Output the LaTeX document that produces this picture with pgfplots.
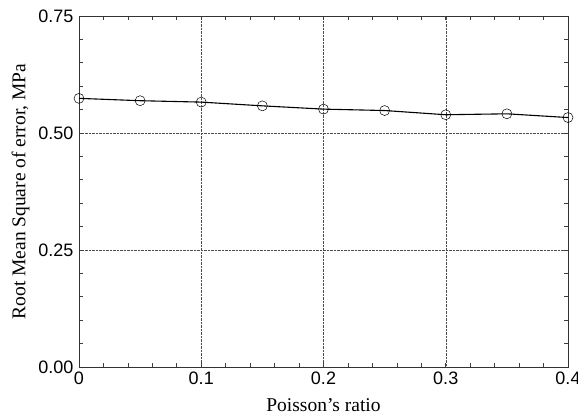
\documentclass[border=0pt]{standalone}
\usepackage{fontspec}
\setmainfont{Liberation Serif}
\setsansfont{Liberation Sans}
\usepackage{pgfplots}
\pgfplotsset{compat=1.18}
\usetikzlibrary{calc}

\begin{document}
\begin{tikzpicture}
\begin{axis}[
    name=ax,
    scale only axis,
    width=489pt, height=351pt,
    xmin=0, xmax=0.4,
    ymin=0, ymax=0.75,
    xtick={0,0.1,0.2,0.3,0.4},
    ytick={0,0.25,0.5,0.75},
    minor x tick num=4,
    minor y tick num=4,
    tick align=inside,
    major tick length=4pt,
    minor tick length=4pt,
    tick style={black!75, line width=0.6pt},
    axis line style={black!80, line width=0.9pt},
    xmajorgrids, ymajorgrids,
    major grid style={black!70, densely dotted, line width=0.5pt},
    /pgf/number format/assume math mode=true,
    xticklabel style={/pgf/number format/fixed, font=\fontsize{18}{20}\sffamily, yshift=-1pt},
    yticklabel style={/pgf/number format/fixed, /pgf/number format/precision=2,
        /pgf/number format/fixed zerofill, font=\fontsize{18}{20}\sffamily, xshift=-2pt},
    scaled ticks=false,
    xlabel={Poisson's ratio},
    ylabel={Root Mean Square of error, MPa},
    label style={font=\fontsize{19.5}{22}\selectfont},
    xlabel style={at={(rel axis cs:0.5,0)}, anchor=base, yshift=-45pt},
    ylabel style={yshift=2pt},
]
\addplot[black, line width=1.1pt, mark=o, mark size=5pt,
    mark options={line width=0.5pt, fill=none}]
coordinates {
(0.00,0.574) (0.05,0.569) (0.10,0.566) (0.15,0.558) (0.20,0.551)
(0.25,0.548) (0.30,0.539) (0.35,0.541) (0.40,0.533)
};
\end{axis}
\pgfresetboundingbox
\path ($(ax.south west)+(-79pt,-51pt)$) rectangle ($(ax.north east)+(10pt,16pt)$);
\end{tikzpicture}
\end{document}
